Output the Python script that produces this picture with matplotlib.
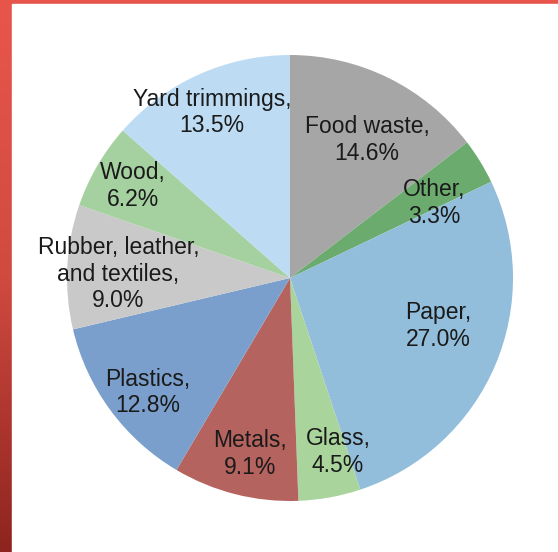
import numpy as np
import matplotlib.pyplot as plt
from matplotlib.colors import LinearSegmentedColormap

plt.rcParams["font.family"] = ["Liberation Sans", "DejaVu Sans"]

categories = ["Food waste", "Other", "Paper", "Glass", "Metals", "Plastics",
              "Rubber, leather,\nand textiles", "Wood", "Yard trimmings"]
shares = [14.6, 3.3, 27.0, 4.5, 9.1, 12.8, 9.0, 6.2, 13.5]
colors = ["#a6a6a6", "#6cab6e", "#92bedb", "#a9d59d", "#b5635e", "#7b9fcc",
          "#c9c9c9", "#a5d09f", "#bddcf3"]
# label placement: radius fraction and angle shift from wedge middle (deg)
label_r = [0.71, 0.73, 0.70, 0.81, 0.81, 0.82, 0.77, 0.816, 0.82]
label_dang = [-2.9, -4.1, 5.1, 5.1, 1.5, 2.4, 1.6, -0.2, 0.9]

W, H = 558, 552
fig = plt.figure(figsize=(W / 100, H / 100), dpi=100)

# red frame on the left and top
bg = fig.add_axes([0, 0, 1, 1])
grad = np.linspace(0, 1, 256)[:, None]
red = LinearSegmentedColormap.from_list("red", ["#e8564b", "#d04a40", "#8e241f"])
bg.imshow(grad, aspect="auto", cmap=red, extent=[0, 1, 0, 1], origin="upper")
bg.add_patch(plt.Rectangle((12 / W, 0), 1, 1 - 4 / H, color="white", zorder=2))
bg.set_xlim(0, 1)
bg.set_ylim(0, 1)
bg.axis("off")

cx, cy, R = 290, 552 - 278, 223
ax = fig.add_axes([(cx - R) / W, (cy - R) / H, 2 * R / W, 2 * R / H])
wedges, _ = ax.pie(shares, colors=colors, startangle=90, counterclock=False,
                   radius=1, wedgeprops=dict(linewidth=0))
for w, name, val, r, da in zip(wedges, categories, shares, label_r, label_dang):
    ang = np.deg2rad((w.theta1 + w.theta2) / 2 + da)
    ax.text(r * np.cos(ang), r * np.sin(ang), f"{name},\n{val:.1f}%",
            ha="center", va="center", fontsize=16.5, color="#1a1a1a",
            linespacing=1.21)
ax.set_xlim(-1, 1)
ax.set_ylim(-1, 1)
ax.set_aspect("equal")

fig.savefig("out.png", dpi=100)
